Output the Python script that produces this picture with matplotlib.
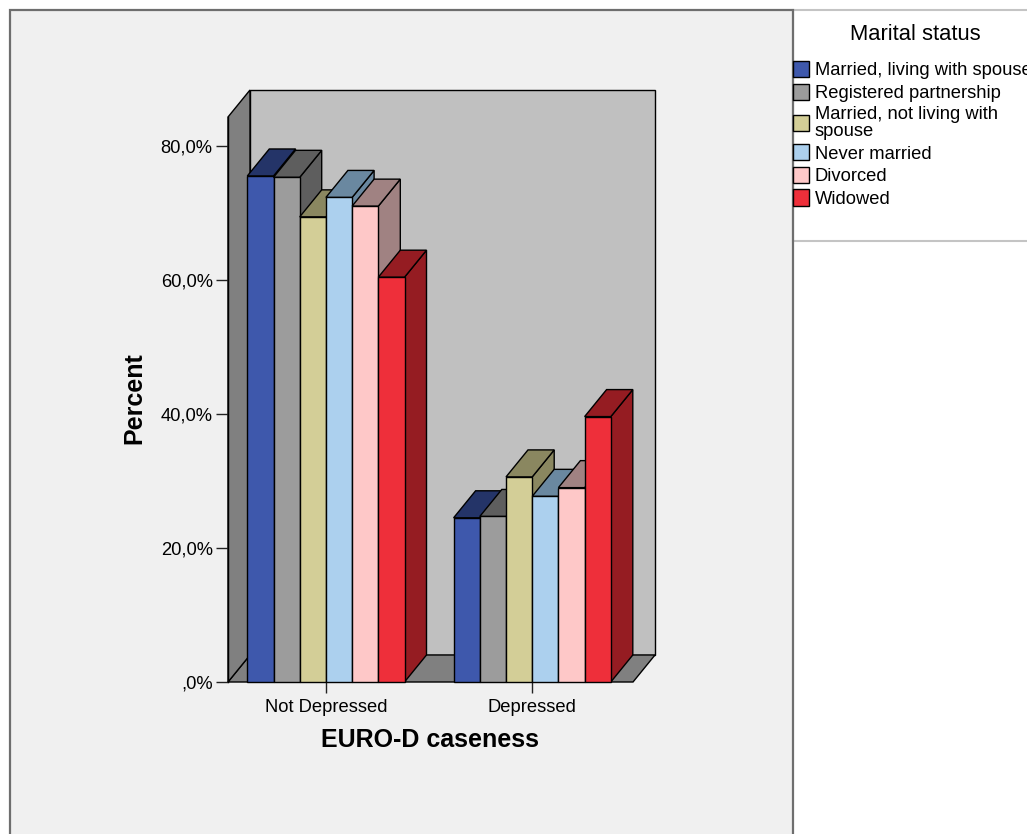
import matplotlib.pyplot as plt
import numpy as np
from matplotlib.patches import Polygon, Rectangle
from matplotlib.ticker import FuncFormatter

plt.rcParams['font.family'] = ['Liberation Sans', 'DejaVu Sans']

# EURO-D caseness by marital status (column %)
categories = ['Not Depressed', 'Depressed']
statuses = ['Married, living with spouse', 'Registered partnership',
            'Married, not living with\nspouse', 'Never married', 'Divorced', 'Widowed']
married_living = [75.5, 24.5]
registered = [75.3, 24.7]
married_apart = [69.4, 30.6]
never_married = [72.3, 27.7]
divorced = [71.0, 29.0]
widowed = [60.4, 39.6]
series = [married_living, registered, married_apart, never_married, divorced, widowed]

fronts = ['#3e58ac', '#9c9c9c', '#d3ce97', '#acd0ee', '#fec8c8', '#ee2f3a']
shades = ['#243468', '#5e5e5e', '#8a8760', '#6a88a0', '#a08282', '#951c22']

W, H = 1027, 834
def fx(px):
    return px / W
def fy(py):
    return 1 - py / H

fig = plt.figure(figsize=(W / 100, H / 100), dpi=100, facecolor='white')

# chart panel and legend panel backgrounds
fig.add_artist(Rectangle((fx(10), fy(900)), fx(793) - fx(10), fy(10) - fy(900),
                         transform=fig.transFigure, fc='#f0f0f0', ec='none', zorder=-10))
fig.add_artist(Rectangle((fx(793), fy(241)), fx(1100) - fx(793), fy(10) - fy(241),
                         transform=fig.transFigure, fc='white', ec='#c4c4c4', lw=1.5, zorder=-9))
fig.add_artist(Rectangle((fx(10), fy(900)), fx(793) - fx(10), fy(10) - fy(900),
                         transform=fig.transFigure, fc='none', ec='#6e6e6e', lw=1.6, zorder=-8))

ax = fig.add_axes([fx(228), fy(682), fx(655) - fx(228), fy(90) - fy(682)])
ax.patch.set_visible(False)

bar_w = 0.127
dx, dy = 0.1066, 4.03          # depth offset of the 3D box
x0, x1 = -0.4746, 1.4886       # front edge of the floor
ymax = 84.3

ax.set_xlim(x0, x1 + dx)
ax.set_ylim(0, ymax + dy)

edge = dict(ec='black', lw=1.0, clip_on=False, joinstyle='miter')
ax.add_patch(Polygon([(x0 + dx, dy), (x0 + dx, ymax + dy), (x1 + dx, ymax + dy), (x1 + dx, dy)],
                     fc='#c0c0c0', zorder=1, **edge))
ax.add_patch(Polygon([(x0, 0), (x1, 0), (x1 + dx, dy), (x0 + dx, dy)],
                     fc='#808080', zorder=1.5, **edge))
ax.add_patch(Polygon([(x0, 0), (x0, ymax), (x0 + dx, ymax + dy), (x0 + dx, dy)],
                     fc='#808080', zorder=1.5, **edge))

offsets = (np.arange(len(series)) - (len(series) - 1) / 2) * bar_w
handles = []
for i, vals in enumerate(series):
    xs = np.arange(len(categories)) + offsets[i]
    b = ax.bar(xs, vals, width=bar_w, color=fronts[i], edgecolor='black', linewidth=1.0,
               zorder=4 + 2 * i, clip_on=False)
    handles.append(b)
    for x, v in zip(xs, vals):
        xl, xr = x - bar_w / 2, x + bar_w / 2
        ax.add_patch(Polygon([(xr, 0), (xr + dx, dy), (xr + dx, v + dy), (xr, v)],
                             fc=shades[i], zorder=3 + 2 * i, **edge))
        ax.add_patch(Polygon([(xl, v), (xr, v), (xr + dx, v + dy), (xl + dx, v + dy)],
                             fc=shades[i], zorder=3 + 2 * i, **edge))

for s in ['top', 'right', 'bottom']:
    ax.spines[s].set_visible(False)
ax.spines['left'].set_bounds(0, ymax)
ax.spines['left'].set_linewidth(1.0)
ax.spines['left'].set_zorder(20)

def pct(v, pos):
    s = f'{v:.1f}%'.replace('.', ',')
    return s[1:] if s.startswith('0,') else s

ax.set_yticks([0, 20, 40, 60, 80])
ax.yaxis.set_major_formatter(FuncFormatter(pct))
ax.tick_params(axis='y', length=9, width=1.0, pad=2, labelsize=13.2, color='#222222')
ax.set_xticks(range(len(categories)), categories)
ax.tick_params(axis='x', length=8, width=1.0, pad=4, labelsize=13.2, color='#222222')

ax.set_xlabel('EURO-D caseness', fontsize=18, fontweight='bold')
ax.xaxis.set_label_coords(0.472, -0.078)
ax.set_ylabel('Percent', fontsize=18, fontweight='bold')
ax.yaxis.set_label_coords(-0.19, 0.48)

fig.text(fx(915), fy(35), 'Marital status', ha='center', va='center', fontsize=15.8)
leg = fig.legend(handles, statuses, loc='upper left', bbox_to_anchor=(fx(793), fy(61)),
                 frameon=False, borderpad=0, borderaxespad=0, handlelength=0.88,
                 handleheight=1.0, handletextpad=0.3, labelspacing=0.22, fontsize=13.2)
for t in leg.get_texts():
    t.set_linespacing(1.0)

fig.savefig('out.png', dpi=100, facecolor='white')
